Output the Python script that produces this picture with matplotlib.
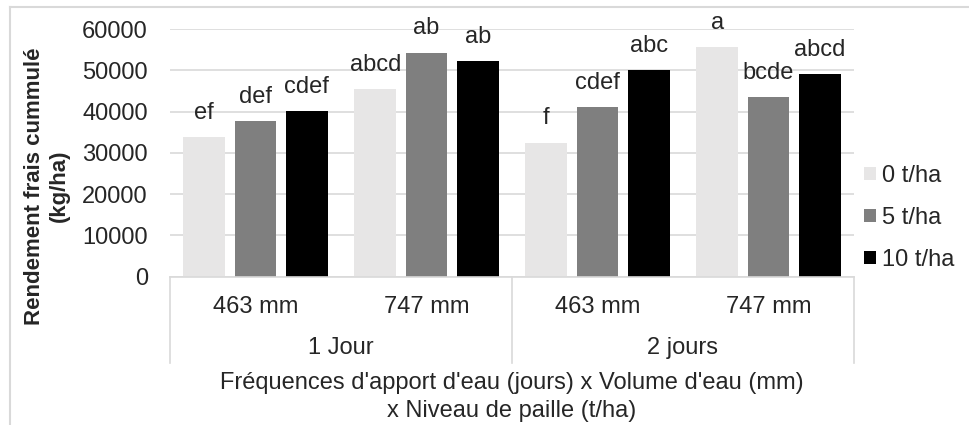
import matplotlib.pyplot as plt
import matplotlib.transforms as mtransforms
from matplotlib.patches import Patch
from matplotlib.lines import Line2D
import numpy as np

plt.rcParams['font.family'] = ['Liberation Sans', 'DejaVu Sans']

# data
volumes = ['463 mm', '747 mm', '463 mm', '747 mm']
frequences = ['1 Jour', '2 jours']
niveaux = ['0 t/ha', '5 t/ha', '10 t/ha']
rdt_0 = [33800, 45500, 32500, 55700]
rdt_5 = [37700, 54300, 41100, 43600]
rdt_10 = [40200, 52300, 50000, 49000]
lettres_0 = ['ef', 'abcd', 'f', 'a']
lettres_5 = ['def', 'ab', 'cdef', 'bcde']
lettres_10 = ['cdef', 'ab', 'abc', 'abcd']
yticks = [0, 10000, 20000, 30000, 40000, 50000, 60000]

couleurs = ['#E7E6E6', '#7F7F7F', '#000000']
txt = '#262626'
grille = '#D9D9D9'
fs = 17

fig = plt.figure(figsize=(9.7, 4.25), dpi=100)
ax = fig.add_axes([170 / 970, 1 - 276.7 / 425, (854 - 170) / 970, (276.7 - 29) / 425])

x = np.arange(len(volumes)) + 0.5
decal = [-0.3, 0.0, 0.3]
largeur = 0.245
series = [rdt_0, rdt_5, rdt_10]
lettres = [lettres_0, lettres_5, lettres_10]

for i in range(3):
    bars = ax.bar(x + decal[i], series[i], largeur, color=couleurs[i], zorder=2)
    for b, l in zip(bars, lettres[i]):
        ax.annotate(l, (b.get_x() + b.get_width() / 2, b.get_height()),
                    xytext=(0, 13), textcoords='offset points',
                    ha='center', va='baseline', fontsize=fs, color=txt)

ax.set_xlim(0, 4)
ax.set_ylim(0, 60000)
ax.set_yticks(yticks)
ax.set_yticklabels([str(v) for v in yticks])
ax.tick_params(axis='y', length=0, pad=16, labelsize=fs, labelcolor=txt)
ax.set_xticks([])
ax.grid(axis='y', color=grille, linewidth=1.2, zorder=0)
for s in ['top', 'right', 'left']:
    ax.spines[s].set_visible(False)
ax.spines['bottom'].set_color(grille)
ax.spines['bottom'].set_linewidth(1.2)

# multi-level category axis
tr = mtransforms.blended_transform_factory(ax.transData, fig.transFigure)
y_bas = 1 - 363 / 425
for xs in [0, 2, 4]:
    ax.add_line(Line2D([xs, xs], [1 - 276.7 / 425, y_bas], transform=tr,
                       color=grille, linewidth=1.2, clip_on=False))
for xi, v in zip(x, volumes):
    ax.text(xi, 1 - 307 / 425, v, transform=tr, ha='center', va='center',
            fontsize=fs, color=txt)
for j, f in enumerate(frequences):
    ax.text(2 * j + 1, 1 - 348 / 425, f, transform=tr, ha='center', va='center',
            fontsize=fs, color=txt)

fig.text(512 / 970, 1 - 383 / 425, "Fréquences d'apport d'eau (jours) x Volume d'eau (mm)",
         ha='center', va='center', fontsize=fs, color=txt)
fig.text(512 / 970, 1 - 411 / 425, "x Niveau de paille (t/ha)",
         ha='center', va='center', fontsize=fs, color=txt)

fig.text(47 / 970, 1 - 186 / 425, 'Rendement frais cummulé\n(kg/ha)', rotation=90,
         ha='center', va='center', fontsize=16, fontweight='bold', color=txt,
         linespacing=1.25)

handles = [Patch(facecolor=c, edgecolor='none') for c in couleurs]
fig.legend(handles, niveaux, loc='center left', bbox_to_anchor=(864 / 970, 1 - 218 / 425),
           frameon=False, fontsize=fs, handlelength=0.5, handleheight=0.5,
           handletextpad=0.25, labelspacing=0.85, labelcolor=txt, borderaxespad=0,
           borderpad=0)

# frame of the chart area
fig.add_artist(Line2D([10 / 970, 10 / 970], [0, 1 - 7 / 425], transform=fig.transFigure,
                      color=grille, linewidth=1.5))
fig.add_artist(Line2D([10 / 970, 1], [1 - 7 / 425, 1 - 7 / 425], transform=fig.transFigure,
                      color=grille, linewidth=1.5))

fig.savefig('out.png', dpi=100)
